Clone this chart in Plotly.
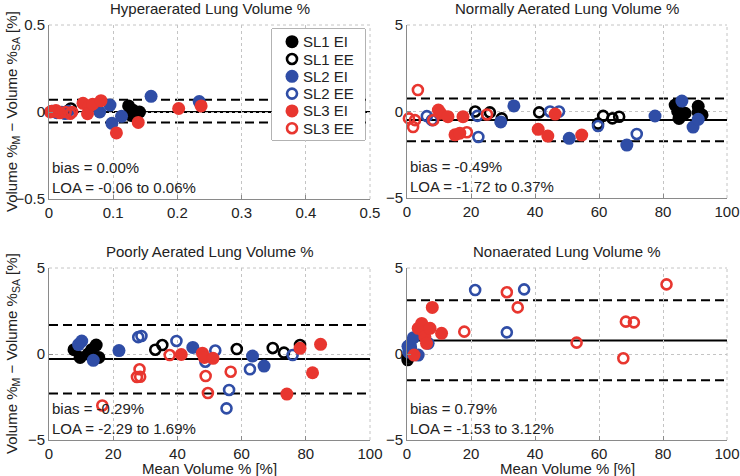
import plotly.graph_objects as go

# ---------------- data ----------------
series_names = ["SL1 EI", "SL1 EE", "SL2 EI", "SL2 EE", "SL3 EI", "SL3 EE"]

titles = ["Hyperaerated Lung Volume %", "Normally Aerated Lung Volume %",
          "Poorly Aerated Lung Volume %", "Nonaerated Lung Volume %"]

bias_text = ["bias = 0.00%", "bias = -0.49%", "bias = -0.29%", "bias = 0.79%"]
loa_text = ["LOA = -0.06 to 0.06%", "LOA = -1.72 to 0.37%",
            "LOA = -2.29 to 1.69%", "LOA = -1.53 to 3.12%"]

# drawn reference lines: bias, lower LOA, upper LOA
bias_vals = [0.0, -0.49, -0.29, 0.79]
loa_low = [-0.06, -1.72, -2.29, -1.53]
loa_high = [0.07, 0.75, 1.69, 3.12]

# Panel 1: hyperaerated
hyper_x = {
    "SL1 EI": [0.124, 0.128, 0.141, 0.131],
    "SL1 EE": [0.034, 0.029],
    "SL2 EI": [0.079, 0.095, 0.098, 0.113, 0.159, 0.234],
    "SL2 EE": [0.005, 0.012, 0.020, 0.025, 0.030],
    "SL3 EI": [0.002, 0.009, 0.017, 0.053, 0.062, 0.060, 0.068, 0.081, 0.105, 0.139, 0.202, 0.237],
    "SL3 EE": [0.004, 0.011, 0.026, 0.033, 0.036],
}
hyper_y = {
    "SL1 EI": [0.035, -0.02, 0.0, 0.01],
    "SL1 EE": [0.02, 0.005],
    "SL2 EI": [0.0, 0.04, -0.065, -0.025, 0.09, 0.06],
    "SL2 EE": [0.005, -0.005, 0.0, -0.01, 0.005],
    "SL3 EI": [0.0, 0.005, -0.005, 0.05, 0.03, -0.01, 0.045, 0.065, -0.12, -0.06, 0.02, 0.035],
    "SL3 EE": [0.005, 0.01, 0.0, -0.01, 0.0],
}

# Panel 2: normally aerated
normal_x = {
    "SL1 EI": [83.8, 84.6, 85.0, 86.9, 91.0, 91.0, 92.2],
    "SL1 EE": [21.3, 25.9, 29.6, 41.3, 59.7, 61.3, 64.2, 66.3],
    "SL2 EI": [29.3, 33.4, 50.7, 68.7, 77.5, 85.9, 89.4, 91.0],
    "SL2 EE": [6.2, 7.8, 22.0, 22.3, 44.7, 47.5, 59.7, 71.8],
    "SL3 EI": [9.8, 10.5, 12.8, 15.0, 16.5, 17.5, 41.0, 44.0, 46.3, 54.6],
    "SL3 EE": [0.6, 1.9, 2.5, 3.4, 8.2, 18.7, 25.0],
}
normal_y = {
    "SL1 EI": [0.37, 0.0, -0.4, -0.1, 0.3, -0.05, -0.2],
    "SL1 EE": [0.0, -0.05, -0.4, -0.05, -0.7, -0.25, -0.4, -0.3],
    "SL2 EI": [-0.6, 0.32, -1.55, -1.94, -0.26, 0.6, -0.9, -0.45],
    "SL2 EE": [-0.27, -0.5, -0.25, -1.47, 0.0, 0.0, -0.84, -1.3],
    "SL3 EI": [0.08, -0.1, -0.3, -1.35, -1.25, -0.3, -1.03, -1.42, -0.15, -1.36],
    "SL3 EE": [-0.4, -0.9, -0.5, 1.24, -0.5, -1.2, -0.17],
}

# Panel 3: poorly aerated
poor_x = {
    "SL1 EI": [7.8, 9.7, 12.2, 13.3, 14.7, 15.5],
    "SL1 EE": [33.1, 35.3, 58.5, 69.7, 73.2, 78.2],
    "SL2 EI": [9.2, 10.2, 13.8, 21.8, 44.8, 63.4, 67.0],
    "SL2 EE": [27.8, 28.8, 39.7, 48.7, 51.8, 55.3, 56.1, 62.6, 75.9],
    "SL3 EI": [41.2, 47.8, 48.4, 51.1, 74.1, 78.2, 82.1, 84.6],
    "SL3 EE": [16.6, 27.4, 28.2, 28.4, 37.6, 48.8, 49.5, 56.6],
}
poor_y = {
    "SL1 EI": [0.25, -0.2, 0.0, 0.25, 0.52, -0.2],
    "SL1 EE": [0.25, 0.52, 0.29, 0.35, 0.08, 0.52],
    "SL2 EI": [0.55, 0.75, -0.37, 0.2, 0.38, -0.12, -0.7],
    "SL2 EE": [0.98, 1.05, 0.76, -0.45, 0.2, -3.16, -2.09, -0.89, -0.06],
    "SL3 EI": [-0.03, 0.05, -0.2, -0.25, -2.33, 0.33, -1.09, 0.56],
    "SL3 EE": [-2.99, -1.34, -0.89, -1.32, -0.06, -1.28, -2.27, -1.03],
}

# Panel 4: nonaerated
non_x = {
    "SL1 EI": [0.3],
    "SL1 EE": [0.2, 0.6],
    "SL2 EI": [0.3, 0.8, 1.0, 2.0, 3.5, 6.6],
    "SL2 EE": [0.5, 1.2, 21.3, 31.2, 36.6],
    "SL3 EI": [2.2, 3.5, 4.6, 5.2, 5.6, 6.1, 7.2, 7.9, 10.8],
    "SL3 EE": [17.9, 31.2, 34.6, 53.0, 67.6, 68.4, 70.9, 81.1],
}
non_y = {
    "SL1 EI": [-0.2],
    "SL1 EE": [-0.35, -0.1],
    "SL2 EI": [0.45, 0.25, 0.55, 0.95, -0.06, 0.62],
    "SL2 EE": [0.1, 0.35, 3.72, 1.26, 3.76],
    "SL3 EI": [-0.06, 1.49, 1.78, 1.3, 1.0, 0.62, 1.49, 2.71, 1.2],
    "SL3 EE": [1.3, 3.59, 2.71, 0.66, -0.25, 1.88, 1.84, 4.05],
}

panels_x = [hyper_x, normal_x, poor_x, non_x]
panels_y = [hyper_y, normal_y, poor_y, non_y]

x_ranges = [[0, 0.5], [0, 100], [0, 100], [0, 100]]
y_ranges = [[-0.5, 0.5], [-5, 5], [-5, 5], [-5, 5]]
x_dticks = [0.1, 20, 20, 20]
y_dticks = [0.5, 5, 5, 5]

# ---------------- styling ----------------
W, H = 740, 476
BLACK = "#000000"
BLUE = "#2f4da6"
RED = "#e8362f"
series_color = {"SL1": BLACK, "SL2": BLUE, "SL3": RED}
FONT = "Liberation Sans, Arial, sans-serif"
TXT = "#222"


def marker_style(name):
    col = series_color[name[:3]]
    if name.endswith("EI"):
        return dict(symbol="circle", size=13, color=col, line=dict(width=0))
    return dict(symbol="circle", size=10, color="rgba(0,0,0,0)", line=dict(width=2.6, color=col))


# plot areas in pixels: (left, right, top, bottom)
boxes = [(49, 370, 25, 199), (407, 727, 25, 198),
         (49, 370, 268, 440), (407, 727, 268, 440)]

fig = go.Figure()

for i in range(4):
    ax = "" if i == 0 else str(i + 1)
    for name in series_names:
        fig.add_trace(go.Scatter(
            x=panels_x[i][name], y=panels_y[i][name], mode="markers",
            name=name, showlegend=False, marker=marker_style(name),
            xaxis="x" + ax, yaxis="y" + ax, cliponaxis=False))

# legend drawn on its own small hidden axes: one row per series
legend_rows = list(range(len(series_names)))
for k, name in enumerate(series_names):
    fig.add_trace(go.Scatter(x=[20], y=[legend_rows[k]], mode="markers", name=name,
                             showlegend=False, marker=marker_style(name),
                             xaxis="x5", yaxis="y5", cliponaxis=False, hoverinfo="skip"))

layout = dict(width=W, height=H, margin=dict(l=0, r=0, t=0, b=0, autoexpand=False),
              paper_bgcolor="white", plot_bgcolor="white", showlegend=False,
              template="none",
              font=dict(family=FONT, size=15, color=TXT))

axis_common = dict(showline=True, linecolor="#8a8a8a", linewidth=1, mirror=False,
                   ticks="inside", ticklen=4, tickcolor="#8a8a8a", automargin=False,
                   showgrid=True, gridcolor="#c4c4c4", griddash="dot", gridwidth=1,
                   zeroline=False, tickfont=dict(family=FONT, size=15, color=TXT))

shapes = []
annotations = []
for i in range(4):
    l, r, t, b = boxes[i]
    ax = "" if i == 0 else str(i + 1)
    layout["xaxis" + ax] = dict(domain=[l / W, r / W], range=x_ranges[i], dtick=x_dticks[i],
                                tick0=0, anchor="y" + ax, **axis_common)
    layout["yaxis" + ax] = dict(domain=[1 - b / H, 1 - t / H], range=y_ranges[i], dtick=y_dticks[i],
                                tick0=0, anchor="x" + ax, **axis_common)
    # dotted frame on top and right (grid at range ends)
    shapes.append(dict(type="line", xref="x" + ax + " domain", yref="y" + ax + " domain",
                       x0=0, x1=1, y0=1, y1=1, layer="below",
                       line=dict(color="#c4c4c4", width=1, dash="dot")))
    shapes.append(dict(type="line", xref="x" + ax + " domain", yref="y" + ax + " domain",
                       x0=1, x1=1, y0=0, y1=1, layer="below",
                       line=dict(color="#c4c4c4", width=1, dash="dot")))
    for val, dash in [(bias_vals[i], "solid"), (loa_low[i], "9px,5px"), (loa_high[i], "9px,5px")]:
        shapes.append(dict(type="line", xref="x" + ax + " domain", yref="y" + ax,
                           x0=0, x1=1, y0=val, y1=val, layer="below",
                           line=dict(color="black", width=2, dash=dash)))
    annotations.append(dict(text=titles[i], xref="paper", yref="paper",
                            x=(l + r) / 2 / W, y=1 - (t - 17) / H, xanchor="center", yanchor="middle",
                            showarrow=False, font=dict(size=15, color=TXT)))
    annotations.append(dict(text=bias_text[i] + "<br>" + loa_text[i], xref="paper", yref="paper",
                            x=(l + 1) / W, y=1 - (b - 1) / H, xanchor="left", yanchor="bottom",
                            align="left", showarrow=False, font=dict(size=15, color=TXT)))
    if i >= 2:
        annotations.append(dict(text="Mean Volume % [%]", xref="paper", yref="paper",
                                x=(l + r) / 2 / W, y=1 - 468 / H, xanchor="center", yanchor="middle",
                                showarrow=False, font=dict(size=15, color=TXT)))
    if i in (0, 2):
        annotations.append(dict(text="Volume %<sub>M</sub> \u2212 Volume %<sub>SA</sub> [%]",
                                xref="paper", yref="paper", textangle=-90,
                                x=12 / W, y=1 - ((t + b) / 2) / H, xanchor="center", yanchor="middle",
                                showarrow=False, font=dict(size=15, color=TXT)))

# legend axes and box (pixel box 272..365 x 29..140, rows 17.3 px apart)
lg_l, lg_r, lg_t, lg_b = 272, 365, 29, 140
row_px0, row_step = 41.7, 17.3
layout["xaxis5"] = dict(domain=[lg_l / W, lg_r / W], range=[0, lg_r - lg_l], visible=False,
                        anchor="y5", fixedrange=True)
layout["yaxis5"] = dict(domain=[1 - lg_b / H, 1 - lg_t / H],
                        range=[(lg_b - row_px0) / row_step, (lg_t - row_px0) / row_step],
                        visible=False, anchor="x5", fixedrange=True)
shapes.append(dict(type="rect", xref="x5 domain", yref="y5 domain", x0=0, x1=1, y0=0, y1=1,
                   layer="below", fillcolor="white", line=dict(color="#666", width=1)))
for k, name in enumerate(series_names):
    annotations.append(dict(text=name, xref="x5", yref="y5", x=29, y=legend_rows[k],
                            xanchor="left", yanchor="middle", showarrow=False,
                            font=dict(size=15, color=TXT)))

layout["shapes"] = shapes
layout["annotations"] = annotations

fig.update_layout(**layout)
fig.write_html("out.html", config={"displayModeBar": False},
               post_script="document.body.style.margin='0';document.body.style.overflow='hidden';")
